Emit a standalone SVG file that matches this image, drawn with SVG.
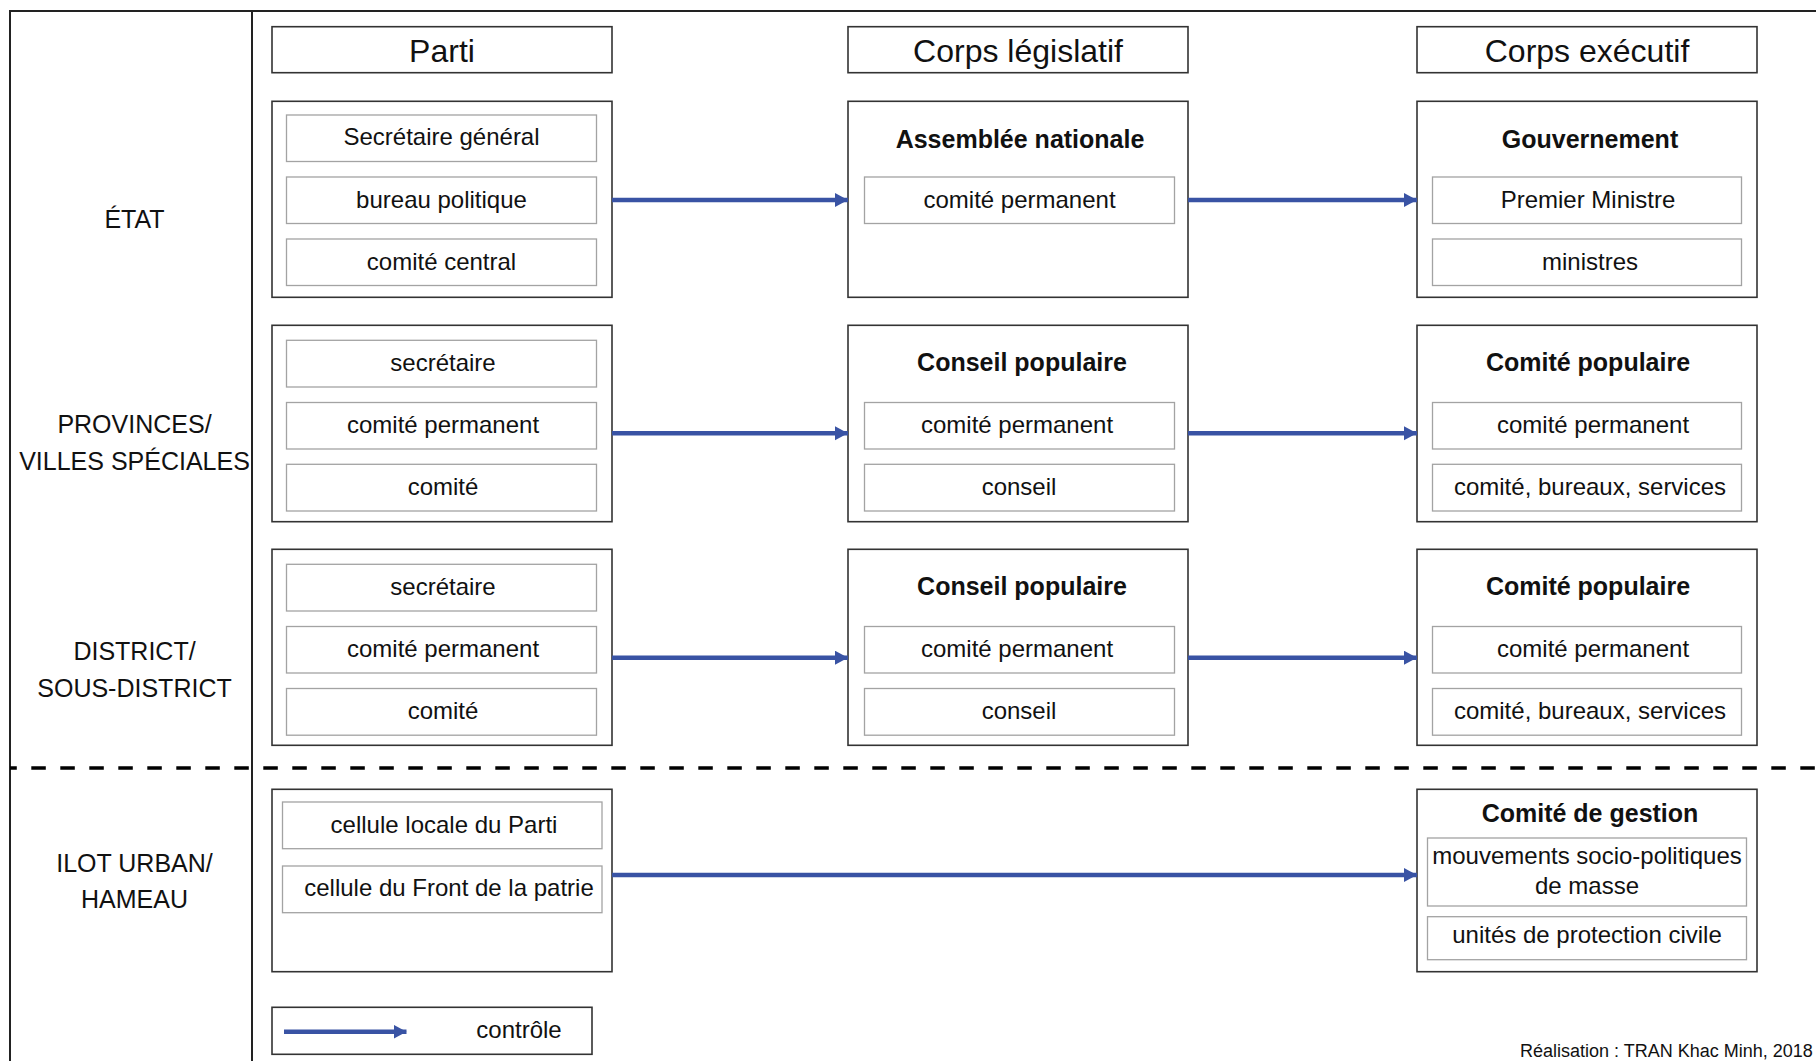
<svg xmlns="http://www.w3.org/2000/svg" width="1816" height="1061" viewBox="0 0 1816 1061">
<defs>
<style>
.outer{fill:#fff;stroke:#333;stroke-width:1.6}
.inner{fill:#fff;stroke:#a3a3a3;stroke-width:1.3}
text{font-family:"Liberation Sans",Arial,sans-serif;fill:#111;text-anchor:middle}
.hdr{font-size:32px}
.ttl{font-size:25px;font-weight:bold}
.txt{font-size:24px}
.lbl{font-size:25px}
.frame{stroke:#222;stroke-width:2;fill:none}
.arr{stroke:#3953a4;stroke-width:4.6;fill:none}
</style>
<marker id="ah" markerUnits="userSpaceOnUse" markerWidth="14" markerHeight="15" refX="13" refY="7" orient="auto">
<path d="M0,0 L13,7 L0,14 z" fill="#3953a4"/>
</marker>
</defs>
<rect width="1816" height="1061" fill="#fff"/>
<g id="frame">
<line class="frame" x1="9" y1="11" x2="1816" y2="11"/>
<line class="frame" x1="10" y1="10" x2="10" y2="1061"/>
<line class="frame" x1="252" y1="11" x2="252" y2="1061"/>
<line x1="10" y1="768" x2="1816" y2="768" stroke="#000" stroke-width="3.6" stroke-dasharray="14.5 14.5" stroke-dashoffset="7.7"/>
</g>
<g id="row-labels">
<text class="lbl" x="134.5" y="228">ÉTAT</text>
<text class="lbl" x="134.5" y="433.3">PROVINCES/</text>
<text class="lbl" x="134.5" y="470">VILLES SPÉCIALES</text>
<text class="lbl" x="134.5" y="660">DISTRICT/</text>
<text class="lbl" x="134.5" y="696.7">SOUS-DISTRICT</text>
<text class="lbl" x="134.5" y="871.7">ILOT URBAN/</text>
<text class="lbl" x="134.5" y="908.3">HAMEAU</text>
</g>
<g id="hdr-parti"><rect class="outer" x="272" y="26.7" width="340" height="46"/><text class="hdr" x="442" y="62">Parti</text></g>
<g id="hdr-legislatif"><rect class="outer" x="848" y="26.7" width="340" height="46"/><text class="hdr" x="1018" y="62">Corps législatif</text></g>
<g id="hdr-executif"><rect class="outer" x="1417" y="26.7" width="340" height="46"/><text class="hdr" x="1587" y="62">Corps exécutif</text></g>

<g id="etat-parti">
<rect class="outer" x="272" y="101.3" width="340" height="196"/>
<rect class="inner" x="286.5" y="115" width="310" height="46.5"/><text class="txt" x="441.5" y="145">Secrétaire général</text>
<rect class="inner" x="286.5" y="177" width="310" height="46.5"/><text class="txt" x="441.5" y="207.5">bureau politique</text>
<rect class="inner" x="286.5" y="239" width="310" height="46.5"/><text class="txt" x="441.5" y="269.5">comité central</text>
</g>
<g id="etat-legislatif">
<rect class="outer" x="848" y="101.3" width="340" height="196"/>
<text class="ttl" x="1020" y="148.3">Assemblée nationale</text>
<rect class="inner" x="864.5" y="177" width="310" height="46.5"/><text class="txt" x="1019.5" y="207.5">comité permanent</text>
</g>
<g id="etat-executif">
<rect class="outer" x="1417" y="101.3" width="340" height="196"/>
<text class="ttl" x="1590" y="148.3">Gouvernement</text>
<rect class="inner" x="1432.5" y="177" width="309" height="46.5"/><text class="txt" x="1588" y="207.5">Premier Ministre</text>
<rect class="inner" x="1432.5" y="239" width="309" height="46.5"/><text class="txt" x="1590" y="269.5">ministres</text>
</g>

<g id="prov-parti">
<rect class="outer" x="272" y="325.3" width="340" height="196.4"/>
<rect class="inner" x="286.5" y="340.3" width="310" height="46.7"/><text class="txt" x="443" y="371">secrétaire</text>
<rect class="inner" x="286.5" y="402.5" width="310" height="46.5"/><text class="txt" x="443" y="433">comité permanent</text>
<rect class="inner" x="286.5" y="464.3" width="310" height="46.7"/><text class="txt" x="443" y="495">comité</text>
</g>
<g id="prov-legislatif">
<rect class="outer" x="848" y="325.3" width="340" height="196.4"/>
<text class="ttl" x="1022" y="371">Conseil populaire</text>
<rect class="inner" x="864.5" y="402.5" width="310" height="46.5"/><text class="txt" x="1017" y="433">comité permanent</text>
<rect class="inner" x="864.5" y="464.3" width="310" height="46.7"/><text class="txt" x="1019" y="495">conseil</text>
</g>
<g id="prov-executif">
<rect class="outer" x="1417" y="325.3" width="340" height="196.4"/>
<text class="ttl" x="1588" y="371">Comité populaire</text>
<rect class="inner" x="1432.5" y="402.5" width="309" height="46.5"/><text class="txt" x="1593" y="433">comité permanent</text>
<rect class="inner" x="1432.5" y="464.3" width="309" height="46.7"/><text class="txt" x="1590" y="495">comité, bureaux, services</text>
</g>

<g id="dist-parti">
<rect class="outer" x="272" y="549.3" width="340" height="196"/>
<rect class="inner" x="286.5" y="564.3" width="310" height="46.7"/><text class="txt" x="443" y="595">secrétaire</text>
<rect class="inner" x="286.5" y="626.5" width="310" height="46.5"/><text class="txt" x="443" y="657">comité permanent</text>
<rect class="inner" x="286.5" y="688.5" width="310" height="46.7"/><text class="txt" x="443" y="719">comité</text>
</g>
<g id="dist-legislatif">
<rect class="outer" x="848" y="549.3" width="340" height="196"/>
<text class="ttl" x="1022" y="595">Conseil populaire</text>
<rect class="inner" x="864.5" y="626.5" width="310" height="46.5"/><text class="txt" x="1017" y="657">comité permanent</text>
<rect class="inner" x="864.5" y="688.5" width="310" height="46.7"/><text class="txt" x="1019" y="719">conseil</text>
</g>
<g id="dist-executif">
<rect class="outer" x="1417" y="549.3" width="340" height="196"/>
<text class="ttl" x="1588" y="595">Comité populaire</text>
<rect class="inner" x="1432.5" y="626.5" width="309" height="46.5"/><text class="txt" x="1593" y="657">comité permanent</text>
<rect class="inner" x="1432.5" y="688.5" width="309" height="46.7"/><text class="txt" x="1590" y="719">comité, bureaux, services</text>
</g>

<g id="ilot-parti">
<rect class="outer" x="272" y="789.3" width="340" height="182.4"/>
<rect class="inner" x="282.5" y="802" width="319.5" height="46.7"/><text class="txt" x="444" y="833.3">cellule locale du Parti</text>
<rect class="inner" x="282.5" y="866" width="319.5" height="46.7"/><text class="txt" x="449" y="896">cellule du Front de la patrie</text>
</g>
<g id="ilot-executif">
<rect class="outer" x="1417" y="789.3" width="340" height="182.4"/>
<text class="ttl" x="1590" y="821.7">Comité de gestion</text>
<rect class="inner" x="1427.5" y="838" width="319" height="68"/>
<text class="txt" x="1587" y="864">mouvements socio-politiques</text>
<text class="txt" x="1587" y="894">de masse</text>
<rect class="inner" x="1427.5" y="916.7" width="319" height="43"/><text class="txt" x="1587" y="943.3">unités de protection civile</text>
</g>

<g id="connectors">
<line class="arr" x1="612" y1="200" x2="848" y2="200" marker-end="url(#ah)"/>
<line class="arr" x1="1188" y1="200" x2="1417" y2="200" marker-end="url(#ah)"/>
<line class="arr" x1="612" y1="433.3" x2="848" y2="433.3" marker-end="url(#ah)"/>
<line class="arr" x1="1188" y1="433.3" x2="1417" y2="433.3" marker-end="url(#ah)"/>
<line class="arr" x1="612" y1="657.7" x2="848" y2="657.7" marker-end="url(#ah)"/>
<line class="arr" x1="1188" y1="657.7" x2="1417" y2="657.7" marker-end="url(#ah)"/>
<line class="arr" x1="612" y1="875" x2="1417" y2="875" marker-end="url(#ah)"/>
</g>

<g id="legend">
<rect class="outer" x="272" y="1007.3" width="320" height="47"/>
<line class="arr" x1="284" y1="1031.7" x2="406.5" y2="1031.7" marker-end="url(#ah)"/>
<text class="txt" x="519" y="1038">contrôle</text>
</g>
<g id="credit">
<text x="1520" y="1057" font-size="18" style="text-anchor:start">Réalisation : TRAN Khac Minh, 2018</text>
</g>
</svg>
